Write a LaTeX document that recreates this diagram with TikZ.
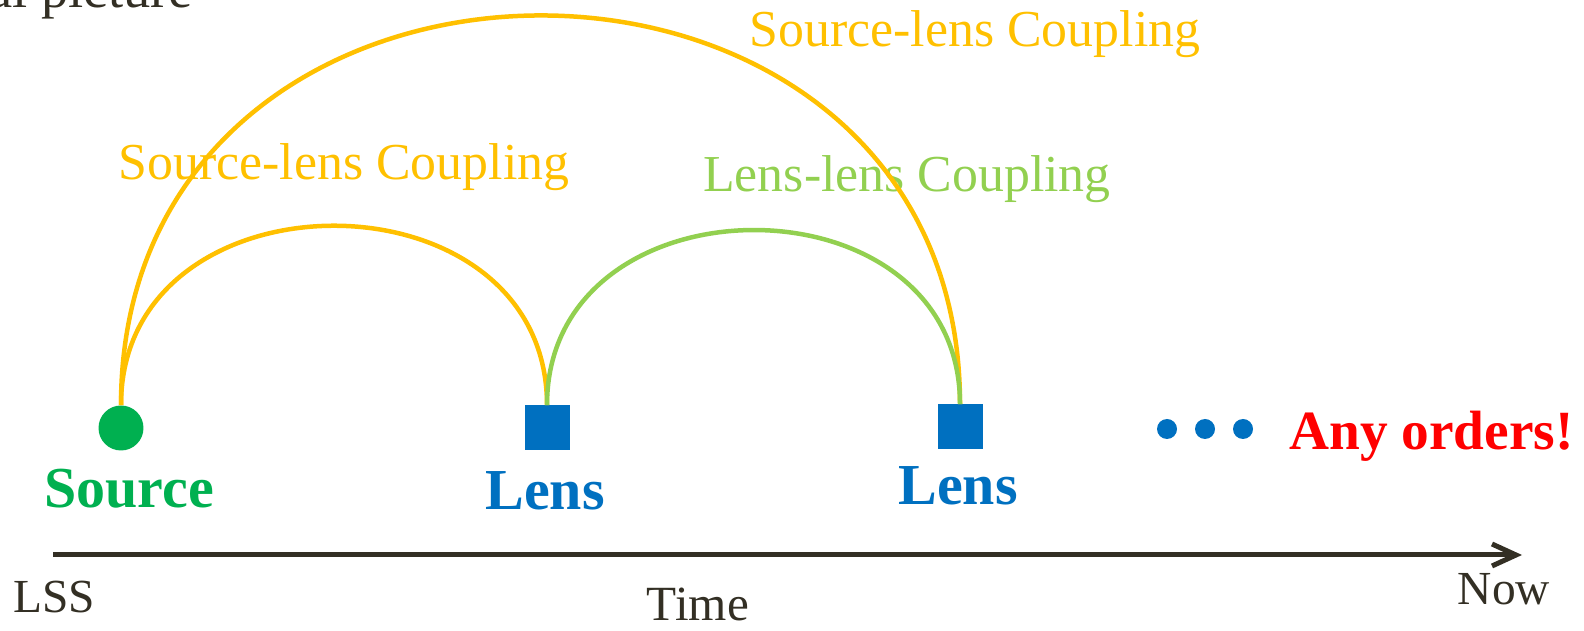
\documentclass[tikz,border=0pt]{standalone}
\usepackage{fontspec}
\setmainfont{Liberation Serif}
\usepackage{xcolor}
\usepackage{tikz}
\usetikzlibrary{arrows.meta}
\definecolor{slYellow}{HTML}{FFC000}
\definecolor{llGreen}{HTML}{92D050}
\definecolor{srcGreen}{HTML}{00B050}
\definecolor{lensBlue}{HTML}{0070C0}
\definecolor{inkDark}{HTML}{332F24}
\newcommand{\Coupling}[1]{{\fontsize{29.5}{32}\selectfont #1-lens Coupling}}
\newcommand{\Tag}[2][33]{{\fontsize{#1}{36}\selectfont\bfseries #2}}
\newcommand{\Axis}[2][27]{{\fontsize{#1}{30}\selectfont #2}}

\begin{document}
\begin{tikzpicture}[x=0.02cm, y=0.02cm, >={Straight Barb[length=0.48cm,width=0.44cm]}]

    \clip (0,0) rectangle (1584,631);

    \draw(193,623) node[anchor=base east, inner sep=0, text=inkDark] (cut) {\Axis[31]{al picture}};

    \draw(121,203) node[circle, fill=srcGreen, minimum size=0.9cm, inner sep=0] (S) {};
    \draw(547,203) node[rectangle, fill=lensBlue, minimum size=0.9cm, inner sep=0] (L1) {};
    \draw(960,204) node[rectangle, fill=lensBlue, minimum size=0.9cm, inner sep=0] (L2) {};

    \draw(129,123) node[anchor=base, inner sep=0, text=srcGreen] (tS) {\Tag{Source}};
    \draw(545,121) node[anchor=base, inner sep=0, text=lensBlue] (tL1) {\Tag{Lens}};
    \draw(958,126) node[anchor=base, inner sep=0, text=lensBlue] (tL2) {\Tag{Lens}};

    \draw(1167,202) node[circle, fill=lensBlue, minimum size=0.4cm, inner sep=0] (D1) {};
    \draw(1205,202) node[circle, fill=lensBlue, minimum size=0.4cm, inner sep=0] (D2) {};
    \draw(1243,202) node[circle, fill=lensBlue, minimum size=0.4cm, inner sep=0] (D3) {};
    \draw(1289,181) node[anchor=base west, inner sep=0, text=red] (any) {\Tag[31.5]{Any orders!}};

    \draw(975,584) node[anchor=base, inner sep=0, text=slYellow] (c1) {\Coupling{Source}};
    \draw(344,451) node[anchor=base, inner sep=0, text=slYellow] (c2) {\Coupling{Source}};
    \draw(907,439) node[anchor=base, inner sep=0, text=llGreen] (c3) {\Coupling{Lens}};

    \draw[slYellow, line width=0.09cm] (S.north) to[out=90, in=90, looseness=1.586] (L2.north);
    \draw[slYellow, line width=0.09cm] (S.north) to[out=90, in=90, looseness=1.44] (L1.north);
    \draw[llGreen, line width=0.09cm] (L1.north) to[out=90, in=90, looseness=1.44] (L2.north);

    \coordinate (T0) at (53,76);
    \coordinate (T1) at (1522,76);
    \draw[->, line width=0.1cm, inkDark] (T0) -- (T1);

    \draw(54,18) node[anchor=base, inner sep=0, text=inkDark] (lss) {\Axis{LSS}};
    \draw(698,10) node[anchor=base, inner sep=0, text=inkDark] (time) {\Axis[28]{Time}};
    \draw(1504,26) node[anchor=base, inner sep=0, text=inkDark] (now) {\Axis{Now}};

    \end{tikzpicture}
\end{document}
